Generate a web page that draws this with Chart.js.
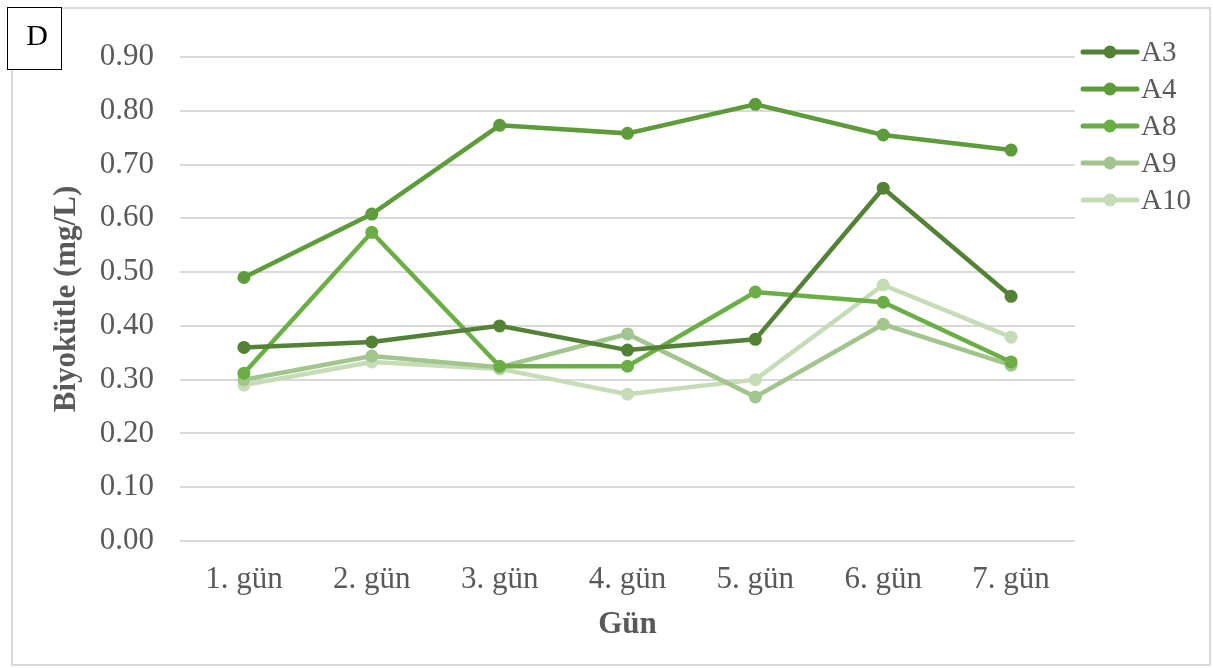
<!DOCTYPE html>
<html>
<head>
<meta charset="utf-8">
<script src="https://cdn.jsdelivr.net/npm/chart.js@4"></script>
<style>
  html, body { margin: 0; padding: 0; background: #fff; }
  #wrap { width: 1213px; height: 668px; position: relative; }
</style>
</head>
<body>
<div id="wrap"><canvas id="chart" width="1213" height="668"></canvas></div>
<script>
// Biomass per day for each strain
const days = ['1. gün', '2. gün', '3. gün', '4. gün', '5. gün', '6. gün', '7. gün'];
const seriesNames = ['A3', 'A4', 'A8', 'A9', 'A10'];
const a3 = [0.36, 0.37, 0.40, 0.355, 0.375, 0.656, 0.455];
const a4 = [0.49, 0.608, 0.773, 0.758, 0.812, 0.755, 0.727];
const a8 = [0.312, 0.574, 0.325, 0.325, 0.463, 0.444, 0.333];
const a9 = [0.30, 0.344, 0.323, 0.385, 0.268, 0.403, 0.327];
const a10 = [0.29, 0.333, 0.32, 0.273, 0.30, 0.476, 0.379];
const yTicks = [0, 0.1, 0.2, 0.3, 0.4, 0.5, 0.6, 0.7, 0.8, 0.9];
const colors = ['#538135', '#5e9b3b', '#6cae46', '#a2c58e', '#c5dcb6'];

const serif = '"Liberation Serif", "Times New Roman", serif';
const values = [a3, a4, a8, a9, a10];

// frame, panel letter and legend drawn straight on the canvas
const decorations = {
  id: 'decorations',
  afterDraw(chart) {
    const ctx = chart.ctx;
    ctx.save();
    ctx.strokeStyle = '#d9d9d9';
    ctx.lineWidth = 2;
    ctx.strokeRect(12, 8, 1198, 657);

    ctx.fillStyle = '#fff';
    ctx.fillRect(7, 7, 54, 62);
    ctx.strokeStyle = '#000';
    ctx.lineWidth = 1;
    ctx.strokeRect(7.5, 7.5, 54, 62);
    ctx.fillStyle = '#000';
    ctx.font = '30px ' + serif;
    ctx.textAlign = 'center';
    ctx.textBaseline = 'middle';
    ctx.fillText('D', 37, 37);

    ctx.font = '29px ' + serif;
    ctx.textAlign = 'left';
    chart.data.datasets.forEach((ds, i) => {
      const y = 52 + i * 37;
      ctx.strokeStyle = ds.borderColor;
      ctx.lineWidth = 5;
      ctx.lineCap = 'round';
      ctx.beginPath();
      ctx.moveTo(1083, y);
      ctx.lineTo(1137, y);
      ctx.stroke();
      ctx.fillStyle = ds.borderColor;
      ctx.beginPath();
      ctx.arc(1110, y, 6.5, 0, Math.PI * 2);
      ctx.fill();
      ctx.fillStyle = '#595959';
      ctx.fillText(ds.label, 1141, y + 1);
    });
    ctx.restore();
  }
};

new Chart(document.getElementById('chart'), {
  type: 'line',
  data: {
    labels: days,
    datasets: seriesNames.map((name, i) => ({
      label: name,
      data: values[i],
      borderColor: colors[i],
      backgroundColor: colors[i],
      borderWidth: 4.5,
      pointRadius: 6.5,
      pointBorderWidth: 0,
      tension: 0
    }))
  },
  options: {
    responsive: false,
    animation: false,
    layout: { padding: { top: 57, right: 138, left: 48, bottom: 0 } },
    plugins: { legend: { display: false }, tooltip: { enabled: false } },
    scales: {
      x: {
        offset: true,
        grid: { display: false },
        border: { display: false },
        ticks: { color: '#595959', font: { family: serif, size: 31 }, padding: 12, maxRotation: 0 },
        title: { display: true, text: 'Gün', color: '#595959', font: { family: serif, size: 31, weight: 'bold' }, padding: { top: 0, bottom: 24 } },
        afterFit(scale) { scale.height = 127; }
      },
      y: {
        min: 0,
        max: 0.9,
        afterBuildTicks(scale) { scale.ticks = yTicks.map(v => ({ value: v })); },
        grid: { color: '#d9d9d9', lineWidth: 2, drawTicks: false },
        border: { display: false },
        ticks: {
          color: '#595959',
          font: { family: serif, size: 31 },
          padding: 26,
          callback: v => v.toFixed(2)
        },
        title: { display: true, text: 'Biyokütle (mg/L)', color: '#595959', font: { family: serif, size: 31, weight: 'bold' }, padding: { top: 0, bottom: 0 } },
        afterFit(scale) { scale.width = 132; }
      }
    }
  },
  plugins: [decorations]
});
</script>
</body>
</html>
